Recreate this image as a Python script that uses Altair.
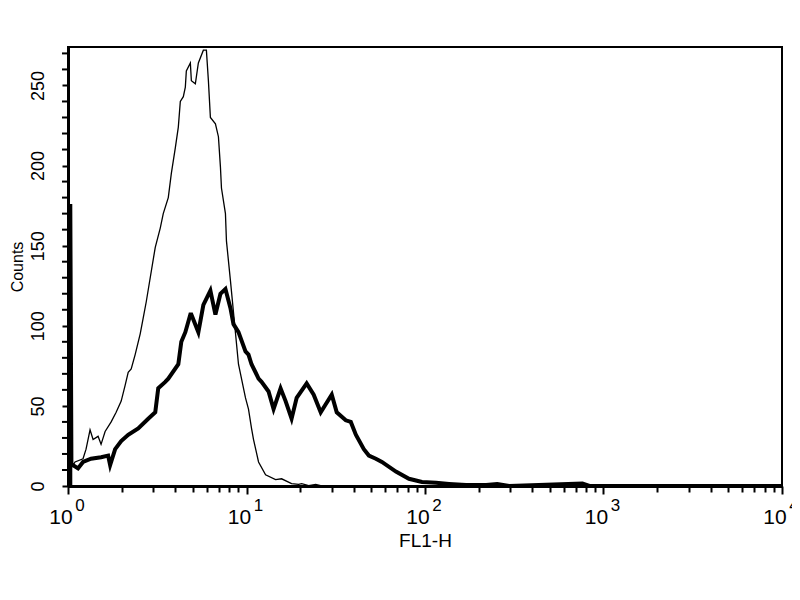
import altair as alt
import pandas as pd

# Isotype control (thin line): FL1-H values and counts
iso_x = [1.03, 1.03, 1.04, 1.067, 1.095, 1.214, 1.262, 1.329, 1.382, 1.474, 1.532, 1.614,
         1.745, 1.861, 1.986, 2.091, 2.174, 2.260, 2.378, 2.538, 2.639, 2.744, 3.082,
         3.287, 3.417, 3.646, 3.791, 3.992, 4.150, 4.258, 4.427, 4.543, 4.602, 4.847,
         4.910, 5.170, 5.374, 5.733, 5.961, 6.117, 6.277, 6.697, 6.962, 7.145, 7.239,
         7.621, 7.720, 8.131, 9.018, 9.871, 10.26, 10.67, 10.95, 11.68, 12.79, 14.55,
         15.73, 17.89, 19.60, 20.37, 22.30, 24.42, 26.38, 10000]
iso_y = [0, 96, 12, 13, 15, 17, 23, 35, 29, 31, 26, 34,
         40, 46, 53, 63, 71, 73, 82, 95, 105, 115, 149,
         161, 170, 180, 195, 211, 224, 240, 243, 249, 259, 264,
         253, 251, 264, 272, 272, 253, 230, 226, 218, 199, 186,
         170, 153, 128, 76, 55, 48, 36, 29, 15, 7, 4,
         4.5, 1.5, 1, 1.5, 0.3, 1, 0, 0]

# Stained sample (thick line)
stain_x = [1.03, 1.03, 1.045, 1.067, 1.138, 1.214, 1.346, 1.532, 1.678, 1.722, 1.837, 1.986,
           2.174, 2.474, 2.815, 3.082, 3.203, 3.507, 3.646, 4.150, 4.313, 4.543, 4.847,
           4.910, 5.374, 5.733, 6.277, 6.697, 7.145, 7.621, 8.131, 8.453, 9.018, 9.871,
           10.26, 10.67, 11.23, 11.68, 12.14, 13.29, 14.18, 15.52, 16.56, 17.89, 19.10,
           21.73, 23.79, 26.05, 27.79, 30.03, 32.03, 35.98, 38.40, 40.98, 45.43, 48.47,
           53.05, 57.34, 68.72, 81.32, 96.19, 115.3, 136.4, 169.9, 220.1, 253.8, 296.5,
           762.1, 834.4, 10000]
stain_y = [0, 176, 14, 13, 11, 15, 17, 18, 19, 13, 23, 28,
           32, 36, 42, 46, 61, 65, 67, 76, 90, 96, 107,
           107, 96, 113, 122, 107, 120, 123, 111, 101, 96, 84,
           82, 76, 71, 67, 65, 59, 48, 61, 53, 42, 55,
           64, 57, 46, 51, 57, 46, 41, 40, 32, 23, 19,
           17, 15, 9, 4.5, 2.5, 2, 1.3, 0.6, 0.6, 1.2, 0,
           1.5, 0, 0]

decades = [1, 10, 100, 1000, 10000]
decade_base = ["10", "10", "10", "10", "10"]
decade_exp = ["0", "1", "2", "3", "4"]
x_tick_values = [m * 10 ** k for k in range(4) for m in range(1, 10)] + [10000]
y_label_values = [0, 50, 100, 150, 200, 250]
y_minor_values = [v for v in range(0, 271, 10) if v % 50 != 0]

FONT = "Liberation Sans, Arial, sans-serif"
W, H = 714, 439

iso = pd.DataFrame({"x": iso_x, "y": iso_y, "i": range(len(iso_x))})
stain = pd.DataFrame({"x": stain_x, "y": stain_y, "i": range(len(stain_x))})
labels = pd.DataFrame({"v": decades, "base": decade_base, "exp": decade_exp})
yminor = pd.DataFrame({"v": y_minor_values})

xscale = alt.Scale(type="log", domain=[1, 10000], nice=False)
yscale = alt.Scale(domain=[0, 274], nice=False, zero=True)

xaxis = alt.Axis(
    values=x_tick_values, labels=False, grid=False,
    tickSize={"condition": {"test": "indexof([1,10,100,1000,10000], datum.value) >= 0", "value": 8}, "value": 6},
    tickColor="black", tickWidth=2, domainColor="black", domainWidth=3,
    title="FL1-H", titleFont=FONT, titleFontSize=19, titleFontWeight="normal",
    titlePadding=36, titleColor="black",
)
yaxis = alt.Axis(
    values=y_label_values, grid=False, labelOverlap=False,
    labelAngle=270, labelAlign="center", labelBaseline="bottom",
    labelFont=FONT, labelFontSize=18, labelColor="black", labelPadding=15,
    tickSize=6, tickColor="black", tickWidth=2, domainColor="black", domainWidth=3,
    title="Counts", titleFont=FONT, titleFontSize=16, titleFontWeight="normal",
    titleColor="black", titlePadding=4,
)

thin = alt.Chart(iso).mark_line(color="black", strokeWidth=1.3, clip=False).encode(
    x=alt.X("x:Q", scale=xscale, axis=xaxis),
    y=alt.Y("y:Q", scale=yscale, axis=yaxis),
    order="i:Q",
)
thick = alt.Chart(stain).mark_line(color="black", strokeWidth=4, clip=False).encode(
    x=alt.X("x:Q", scale=xscale),
    y=alt.Y("y:Q", scale=yscale),
    order="i:Q",
)
minor_ticks = alt.Chart(yminor).mark_rule(color="black", strokeWidth=2, clip=False).encode(
    y=alt.Y("v:Q", scale=yscale),
    x=alt.value(-6),
    x2=alt.value(0),
)
base_txt = alt.Chart(labels).mark_text(font=FONT, fontSize=21, color="black", dx=-7).encode(
    x=alt.X("v:Q", scale=xscale),
    y=alt.value(H + 32),
    text="base:N",
)
exp_txt = alt.Chart(labels).mark_text(font=FONT, fontSize=17, color="black", dx=12).encode(
    x=alt.X("v:Q", scale=xscale),
    y=alt.value(H + 20),
    text="exp:N",
)

chart = alt.layer(thin, thick, minor_ticks, base_txt, exp_txt).properties(
    width=W, height=H,
    autosize=alt.AutoSizeParams(type="none"),
    padding={"left": 60, "top": 39, "right": 10, "bottom": 90},
).configure(background="white").configure_view(stroke="black", strokeWidth=2)

chart.save("out.html", embed_options={"renderer": "svg", "actions": False})
